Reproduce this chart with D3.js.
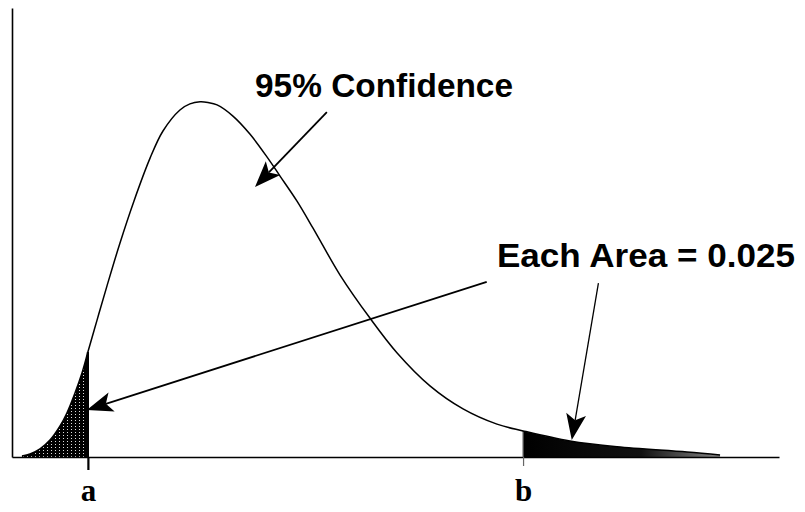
<!DOCTYPE html>
<html>
<head>
<meta charset="utf-8">
<script src="https://cdn.jsdelivr.net/npm/d3@7"></script>
<style>
  html, body { margin: 0; background: #fff; }
  svg { display: block; }
</style>
</head>
<body>
<div id="chart"></div>
<script>
// ---------- Data ----------
const xValues = [0.37, 0.67, 1.04, 1.41, 1.78, 2.04, 2.34, 2.60, 2.82, 3.16, 3.53, 4.01, 4.53, 5.13, 5.61, 6.24, 6.61, 6.99, 7.28, 7.62, 8.21, 8.84, 9.48, 9.96, 10.59, 11.18, 11.44, 12.19, 13.30, 14.31, 15.53, 16.76, 18.02, 18.99, 20.73, 22.48, 25.08, 26.31];
const densities = [0.0003, 0.0009, 0.0024, 0.0050, 0.0091, 0.0130, 0.0189, 0.0248, 0.0310, 0.0404, 0.0505, 0.0631, 0.0755, 0.0882, 0.0962, 0.1024, 0.1042, 0.1048, 0.1046, 0.1039, 0.1006, 0.0953, 0.0885, 0.0829, 0.0755, 0.0676, 0.0640, 0.0537, 0.0410, 0.0307, 0.0210, 0.0142, 0.0097, 0.0077, 0.0047, 0.0030, 0.0015, 0.0006];

const cutLabels = ['a', 'b'];
const cutValues = [2.82, 18.99];

const noteTexts = ['95% Confidence', 'Each Area = 0.025'];
const noteAnchors = [[9.03, 0.1062], [18.02, 0.0561]];   // text left / baseline

// arrows: [from x, from y] -> [to x, to y] in data units
const arrowFrom = [[11.70, 0.1018], [17.64, 0.0517], [21.79, 0.0513]];
const arrowTo   = [[9.03, 0.0797], [2.78, 0.0139], [20.80, 0.0050]];

// ---------- Setup ----------
const W = 805, H = 512;
const x = d3.scaleLinear().domain([0, 28.5]).range([12, 779]);
const y = d3.scaleLinear().domain([0, 0.1325]).range([457, 8]);

const svg = d3.select('#chart').append('svg')
  .attr('width', W).attr('height', H).attr('viewBox', [0, 0, W, H]);

const defs = svg.append('defs');
const hatch = defs.append('pattern')
  .attr('id', 'hatch').attr('patternUnits', 'userSpaceOnUse')
  .attr('width', 4).attr('height', 3);
hatch.append('rect').attr('width', 4).attr('height', 3).attr('fill', '#000');
hatch.append('rect').attr('x', 3).attr('width', 1).attr('height', 1).attr('fill', '#ddd');

const grad = defs.append('linearGradient')
  .attr('id', 'tailGrad').attr('gradientUnits', 'userSpaceOnUse')
  .attr('x1', x(cutValues[1])).attr('x2', x(xValues[xValues.length - 1]))
  .attr('y1', 0).attr('y2', 0);
grad.append('stop').attr('offset', '0%').attr('stop-color', '#000');
grad.append('stop').attr('offset', '60%').attr('stop-color', '#111');
grad.append('stop').attr('offset', '100%').attr('stop-color', '#888');

const pts = xValues.map((v, i) => ({ x: v, d: densities[i] }));
const curve = d3.curveCatmullRom.alpha(0.5);

// ---------- Tails ----------
const area = d3.area()
  .x(p => x(p.x)).y0(y(0)).y1(p => y(p.d))
  .curve(curve);

svg.append('path')
  .datum(pts.filter(p => p.x <= cutValues[0]))
  .attr('d', area)
  .attr('fill', 'url(#hatch)');

svg.append('path')
  .datum(pts.filter(p => p.x >= cutValues[1]))
  .attr('d', area)
  .attr('fill', 'url(#tailGrad)');

// ---------- Axes ----------
const xAxis = svg.append('g')
  .attr('transform', `translate(0,${y(0)})`)
  .call(d3.axisBottom(x).tickValues(cutValues).tickFormat((d, i) => cutLabels[i])
    .tickSize(13).tickSizeOuter(0));
xAxis.select('.domain').attr('stroke', '#000').attr('stroke-width', 1.5);
xAxis.selectAll('.tick line')
  .attr('stroke', (d, i) => i === 0 ? '#000' : '#666')
  .attr('stroke-width', (d, i) => i === 0 ? 2.2 : 1.2)
  .attr('y2', (d, i) => i === 0 ? 13 : 9);
xAxis.selectAll('.tick text')
  .attr('y', 44).attr('dy', 0)
  .attr('fill', '#000')
  .style('font-family', '"Liberation Serif", "Times New Roman", serif')
  .style('font-weight', 'bold')
  .style('font-size', '31px');

const yAxis = svg.append('g')
  .attr('transform', `translate(${x(0)},0)`)
  .call(d3.axisLeft(y).tickValues([]).tickSizeOuter(0));
yAxis.select('.domain').attr('stroke', '#000').attr('stroke-width', 1.6);

// cut-off lines from the curve down to the axis
svg.append('g').selectAll('line').data(cutValues).join('line')
  .attr('x1', d => x(d)).attr('x2', d => x(d))
  .attr('y1', d => y(densities[xValues.indexOf(d)]))
  .attr('y2', y(0))
  .attr('stroke', (d, i) => i === 0 ? '#000' : '#666')
  .attr('stroke-width', (d, i) => i === 0 ? 2.2 : 1.2);

// ---------- Curve ----------
svg.append('path')
  .datum(pts)
  .attr('d', d3.line().x(p => x(p.x)).y(p => y(p.d)).curve(curve))
  .attr('fill', 'none')
  .attr('stroke', '#000')
  .attr('stroke-width', 1.5);

// ---------- Annotations ----------
const headLen = 26, headW = 20, notch = 6;
arrowFrom.forEach((f, i) => {
  const x1 = x(f[0]), y1 = y(f[1]);
  const x2 = x(arrowTo[i][0]), y2 = y(arrowTo[i][1]);
  const len = Math.hypot(x2 - x1, y2 - y1);
  const ux = (x2 - x1) / len, uy = (y2 - y1) / len;
  const bx = x2 - ux * headLen, by = y2 - uy * headLen;
  const nx = x2 - ux * (headLen - notch), ny = y2 - uy * (headLen - notch);
  const px = -uy * headW / 2, py = ux * headW / 2;

  svg.append('line')
    .attr('x1', x1).attr('y1', y1).attr('x2', nx).attr('y2', ny)
    .attr('stroke', '#000').attr('stroke-width', i === 2 ? 1.3 : 1.8);
  svg.append('path')
    .attr('d', `M${x2},${y2}L${bx + px},${by + py}L${nx},${ny}L${bx - px},${by - py}Z`)
    .attr('fill', '#000');
});

const textWidths = [258, 298];
svg.append('g').selectAll('text').data(noteTexts).join('text')
  .attr('x', (d, i) => x(noteAnchors[i][0]))
  .attr('y', (d, i) => y(noteAnchors[i][1]))
  .attr('textLength', (d, i) => textWidths[i])
  .attr('lengthAdjust', 'spacingAndGlyphs')
  .style('font-family', '"Liberation Sans", Arial, Helvetica, sans-serif')
  .style('font-weight', 'bold')
  .style('font-size', '33px')
  .attr('fill', '#000')
  .text(d => d);
</script>
</body>
</html>
